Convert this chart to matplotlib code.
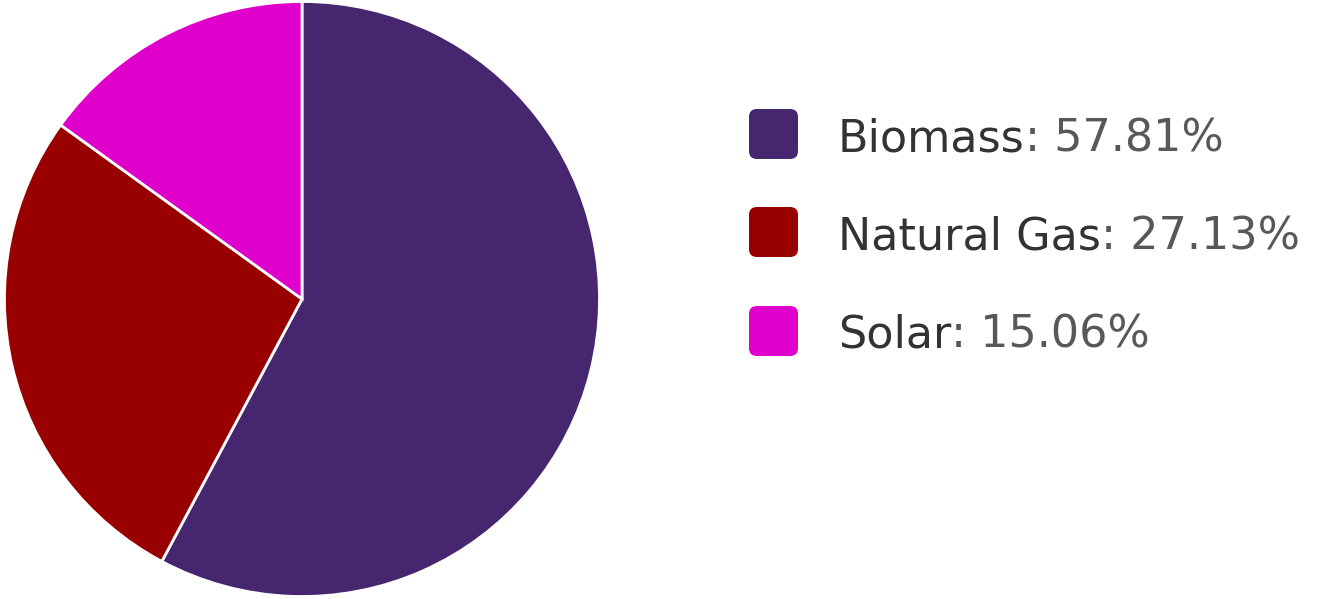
import matplotlib.pyplot as plt
from matplotlib.patches import FancyBboxPatch

sources = ['Biomass', 'Natural Gas', 'Solar']
shares = [57.81, 27.13, 15.06]
colors = ['#46266e', '#990000', '#e000cc']

W, H = 1321, 599
fig = plt.figure(figsize=(W / 100, H / 100), dpi=100)

# pie on the left, starting at 12 o'clock and going clockwise
ax = fig.add_axes([3 / W, 1 / H, 598 / W, 598 / H])
ax.pie(shares, colors=colors, startangle=90, counterclock=False,
       wedgeprops=dict(edgecolor='white', linewidth=2))
ax.set_xlim(-1.005, 1.005)
ax.set_ylim(-1.005, 1.005)
ax.set_aspect('equal')

# legend with rounded swatches
row_y = [134, 232, 331]
fs = 32
for name, val, col, y in zip(sources, shares, colors, row_y):
    yf = 1 - y / H
    sw = FancyBboxPatch((749 / W, yf - 25 / H), 49 / W, 50 / H,
                        boxstyle='round,pad=0,rounding_size=0.006',
                        transform=fig.transFigure, facecolor=col,
                        edgecolor='none', mutation_aspect=W / H)
    fig.patches.append(sw)
    t = fig.text(838 / W, yf, name, fontsize=fs, family='DejaVu Sans',
                 color='#333333', va='center_baseline')
    ax.annotate(f': {val:.2f}%', xy=(1, 0), xycoords=t, fontsize=fs,
                family='DejaVu Sans', color='#585858',
                va='bottom', ha='left', annotation_clip=False)

fig.savefig('out.png', dpi=100, facecolor='white')
